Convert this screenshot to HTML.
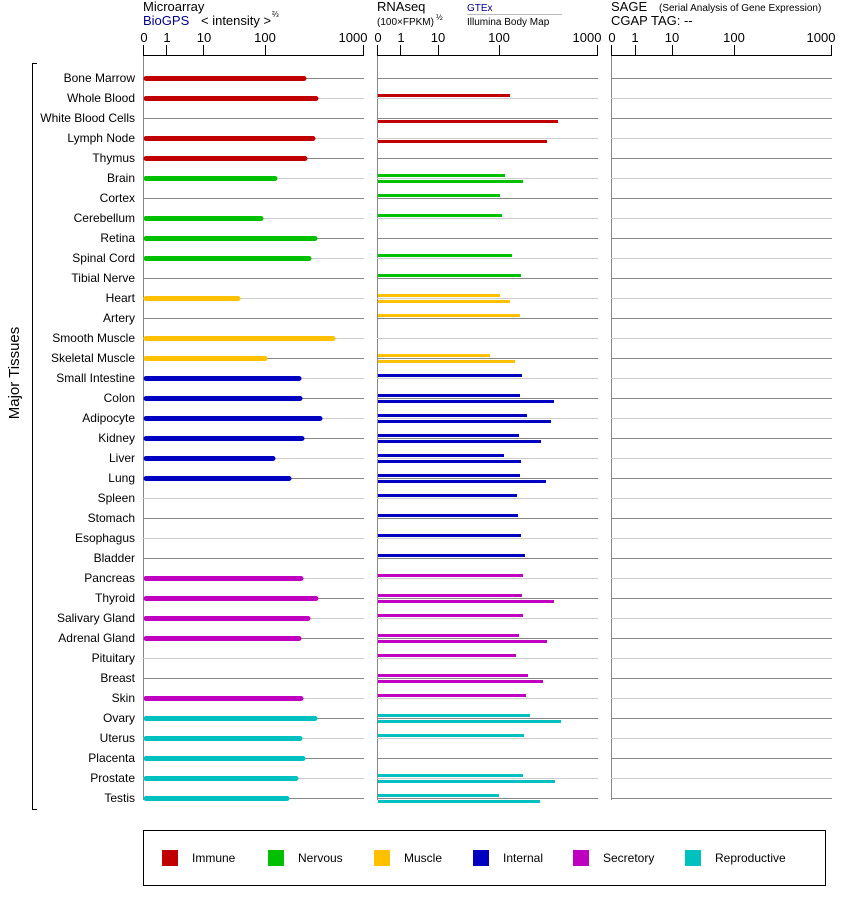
<!DOCTYPE html>
<html><head><meta charset="utf-8"><style>
body{margin:0;background:#fff}
svg{display:block;font-family:"Liberation Sans",Arial,sans-serif}
</style></head><body>
<svg width="842" height="900" xmlns="http://www.w3.org/2000/svg">
<g font-size="13" fill="#000">
<text x="143" y="11">Microarray</text>
<text x="143" y="25" fill="#00008b">BioGPS</text>
<text x="201" y="25">&lt; intensity &gt;</text><text x="272" y="17" font-size="8">⅔</text>
<text x="377" y="11">RNAseq</text>
<text x="377" y="25" font-size="10">(100×FPKM)</text><text x="436" y="20" font-size="8">½</text>
<text x="467" y="11" font-size="10" fill="#00008b">GTEx</text>
<line x1="467" y1="14.5" x2="562" y2="14.5" stroke="#bbb"/>
<text x="467" y="25" font-size="10">Illumina Body Map</text>
<text x="611" y="11">SAGE</text><text x="659" y="11" font-size="10">(Serial Analysis of Gene Expression)</text>
<text x="611" y="25">CGAP TAG:  --</text>
</g>
<g font-size="13" text-anchor="middle">
<text x="144" y="42">0</text><text x="167" y="42">1</text><text x="204" y="42">10</text><text x="265" y="42">100</text><text x="353" y="42">1000</text>
<text x="378" y="42">0</text><text x="401" y="42">1</text><text x="438" y="42">10</text><text x="499" y="42">100</text><text x="587" y="42">1000</text>
<text x="612" y="42">0</text><text x="635" y="42">1</text><text x="672" y="42">10</text><text x="734" y="42">100</text><text x="821" y="42">1000</text>
</g>
<g stroke="#000" stroke-width="1">
<path d="M143.5 45V56M166.5 45V56M203.5 45V56M265.5 45V56M363.5 45V56M143 55.5H364"/>
<path d="M377.5 45V56M400.5 45V56M438.5 45V56M499.5 45V56M597.5 45V56M377 55.5H598"/>
<path d="M611.5 45V56M635.5 45V56M672.5 45V56M734.5 45V56M831.5 45V56M611 55.5H832"/>
<path d="M37 63.5H32.5V809.5H37" fill="none"/>
</g>
<g stroke="#888"><path d="M143.5 56V800M377.5 56V800M611.5 56V800"/></g>
<text transform="translate(19,373) rotate(-90)" text-anchor="middle" font-size="15">Major Tissues</text>
<g id="grid">
<path stroke="#888" d="M143 78.5H364M377 78.5H598M611 78.5H832M143 118.5H364M377 118.5H598M611 118.5H832M143 158.5H364M377 158.5H598M611 158.5H832M143 198.5H364M377 198.5H598M611 198.5H832M143 238.5H364M377 238.5H598M611 238.5H832M143 278.5H364M377 278.5H598M611 278.5H832M143 318.5H364M377 318.5H598M611 318.5H832M143 358.5H364M377 358.5H598M611 358.5H832M143 398.5H364M377 398.5H598M611 398.5H832M143 438.5H364M377 438.5H598M611 438.5H832M143 478.5H364M377 478.5H598M611 478.5H832M143 518.5H364M377 518.5H598M611 518.5H832M143 558.5H364M377 558.5H598M611 558.5H832M143 598.5H364M377 598.5H598M611 598.5H832M143 638.5H364M377 638.5H598M611 638.5H832M143 678.5H364M377 678.5H598M611 678.5H832M143 718.5H364M377 718.5H598M611 718.5H832M143 758.5H364M377 758.5H598M611 758.5H832M143 798.5H364M377 798.5H598M611 798.5H832"/>
<path stroke="#ccc" d="M143 98.5H364M377 98.5H598M611 98.5H832M143 138.5H364M377 138.5H598M611 138.5H832M143 178.5H364M377 178.5H598M611 178.5H832M143 218.5H364M377 218.5H598M611 218.5H832M143 258.5H364M377 258.5H598M611 258.5H832M143 298.5H364M377 298.5H598M611 298.5H832M143 338.5H364M377 338.5H598M611 338.5H832M143 378.5H364M377 378.5H598M611 378.5H832M143 418.5H364M377 418.5H598M611 418.5H832M143 458.5H364M377 458.5H598M611 458.5H832M143 498.5H364M377 498.5H598M611 498.5H832M143 538.5H364M377 538.5H598M611 538.5H832M143 578.5H364M377 578.5H598M611 578.5H832M143 618.5H364M377 618.5H598M611 618.5H832M143 658.5H364M377 658.5H598M611 658.5H832M143 698.5H364M377 698.5H598M611 698.5H832M143 738.5H364M377 738.5H598M611 738.5H832M143 778.5H364M377 778.5H598M611 778.5H832"/>
</g>
<g font-size="12" text-anchor="end">
<text x="135" y="82">Bone Marrow</text><text x="135" y="102">Whole Blood</text><text x="135" y="122">White Blood Cells</text><text x="135" y="142">Lymph Node</text><text x="135" y="162">Thymus</text>
<text x="135" y="182">Brain</text><text x="135" y="202">Cortex</text><text x="135" y="222">Cerebellum</text><text x="135" y="242">Retina</text><text x="135" y="262">Spinal Cord</text><text x="135" y="282">Tibial Nerve</text>
<text x="135" y="302">Heart</text><text x="135" y="322">Artery</text><text x="135" y="342">Smooth Muscle</text><text x="135" y="362">Skeletal Muscle</text>
<text x="135" y="382">Small Intestine</text><text x="135" y="402">Colon</text><text x="135" y="422">Adipocyte</text><text x="135" y="442">Kidney</text><text x="135" y="462">Liver</text><text x="135" y="482">Lung</text><text x="135" y="502">Spleen</text><text x="135" y="522">Stomach</text><text x="135" y="542">Esophagus</text><text x="135" y="562">Bladder</text>
<text x="135" y="582">Pancreas</text><text x="135" y="602">Thyroid</text><text x="135" y="622">Salivary Gland</text><text x="135" y="642">Adrenal Gland</text><text x="135" y="662">Pituitary</text><text x="135" y="682">Breast</text><text x="135" y="702">Skin</text>
<text x="135" y="722">Ovary</text><text x="135" y="742">Uterus</text><text x="135" y="762">Placenta</text><text x="135" y="782">Prostate</text><text x="135" y="802">Testis</text>
</g>
<g stroke-width="5" stroke-linecap="round">
<path stroke="#c00000" d="M146 78.5H304M146 98.5H316M146 138.5H313M146 158.5H305"/>
<path stroke="#00c000" d="M146 178.5H275M146 218.5H261M146 238.5H315M146 258.5H309"/>
<path stroke="#ffc000" d="M146 298.5H238M146 338.5H333M146 358.5H265"/>
<path stroke="#0000c0" d="M146 378.5H299M146 398.5H300M146 418.5H320M146 438.5H302M146 458.5H273M146 478.5H289"/>
<path stroke="#c000c0" d="M146 578.5H301M146 598.5H316M146 618.5H308M146 638.5H299M146 698.5H301"/>
<path stroke="#00c0c0" d="M146 718.5H315M146 738.5H300M146 758.5H303M146 778.5H296M146 798.5H287"/>
</g>
<g stroke-width="3">
<path stroke="#c00000" d="M378 95.5H510M378 121.5H558M378 141.5H547"/>
<path stroke="#00c000" d="M378 175.5H505M378 181.5H523M378 195.5H500M378 215.5H502M378 255.5H512M378 275.5H521"/>
<path stroke="#ffc000" d="M378 295.5H500M378 301.5H510M378 315.5H520M378 355.5H490M378 361.5H515"/>
<path stroke="#0000c0" d="M378 375.5H522M378 395.5H520M378 401.5H554M378 415.5H527M378 421.5H551M378 435.5H519M378 441.5H541M378 455.5H504M378 461.5H521M378 475.5H520M378 481.5H546M378 495.5H517M378 515.5H518M378 535.5H521M378 555.5H525"/>
<path stroke="#c000c0" d="M378 575.5H523M378 595.5H522M378 601.5H554M378 615.5H523M378 635.5H519M378 641.5H547M378 655.5H516M378 675.5H528M378 681.5H543M378 695.5H526"/>
<path stroke="#00c0c0" d="M378 715.5H530M378 721.5H561M378 735.5H524M378 775.5H523M378 781.5H555M378 795.5H499M378 801.5H540"/>
</g>
<rect x="143.5" y="830.5" width="682" height="55" fill="none" stroke="#000"/>
<g font-size="12">
<rect x="162" y="850" width="16" height="16" fill="#c00000"/><text x="192" y="862">Immune</text>
<rect x="268" y="850" width="16" height="16" fill="#00c000"/><text x="298" y="862">Nervous</text>
<rect x="374" y="850" width="16" height="16" fill="#ffc000"/><text x="404" y="862">Muscle</text>
<rect x="473" y="850" width="16" height="16" fill="#0000c0"/><text x="503" y="862">Internal</text>
<rect x="573" y="850" width="16" height="16" fill="#c000c0"/><text x="603" y="862">Secretory</text>
<rect x="685" y="850" width="16" height="16" fill="#00c0c0"/><text x="715" y="862">Reproductive</text>
</g>
</svg>
</body></html>
